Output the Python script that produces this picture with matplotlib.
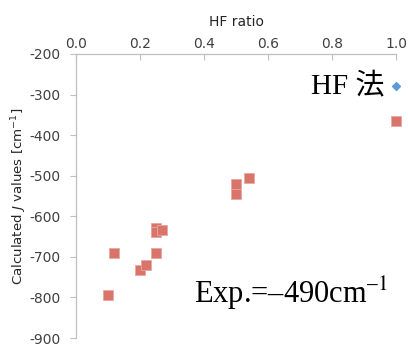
import matplotlib
matplotlib.use('Agg')
import matplotlib.pyplot as plt

plt.rcParams['axes.unicode_minus'] = False

# HF mixing ratio vs. calculated exchange coupling J
hf_ratio = [0.10, 0.12, 0.20, 0.22, 0.25, 0.25, 0.25, 0.27, 0.50, 0.50, 0.54, 1.00]
j_values = [-795, -690, -733, -720, -690, -628, -638, -633, -520, -546, -505, -365]

# pure HF result
hf_x = [1.00]
hf_j = [-280]

fig = plt.figure(figsize=(4.08, 3.46), dpi=100)
ax = fig.add_axes([0.186, 0.023, 0.785, 0.821])

ax.scatter(hf_ratio, j_values, marker='s', s=52, color='#D9746B',
           edgecolors='#E8A8A2', linewidths=0.6, zorder=3, clip_on=False)
ax.scatter(hf_x, hf_j, marker='D', s=16, color='#5B9BD5', zorder=3, clip_on=False)

ax.set_xlim(0.0, 1.0)
ax.set_ylim(-900, -200)
ax.set_xticks([0.0, 0.2, 0.4, 0.6, 0.8, 1.0])
ax.set_xticklabels(['0.0', '0.2', '0.4', '0.6', '0.8', '1.0'])
ax.set_yticks(range(-900, -199, 100))

# x axis on top
ax.xaxis.tick_top()
ax.xaxis.set_label_position('top')
ax.set_xlabel('HF ratio', fontsize=10, color='#262626', labelpad=8)
ax.set_ylabel(r'Calculated $J$ values [cm$^{-1}$]', fontsize=9.6, color='#262626')
ax.yaxis.set_label_coords(-0.145, 0.5)

for side in ['right', 'bottom']:
    ax.spines[side].set_visible(False)
for side in ['left', 'top']:
    ax.spines[side].set_color('#BFBFBF')
    ax.spines[side].set_linewidth(0.9)

ax.tick_params(axis='x', direction='in', length=4, color='#BFBFBF',
               labelsize=10, labelcolor='#404040', pad=2)
ax.tick_params(axis='y', direction='out', length=4, color='#BFBFBF',
               labelsize=10, labelcolor='#404040', pad=7)

serif = ['Liberation Serif', 'Noto Sans CJK JP']
ax.text(0.965, -280, 'HF 法', family=serif, fontsize=21, ha='right', va='center')
ax.text(0.37, -790, 'Exp.=–490cm$^{–1}$', family=serif, fontsize=22,
        ha='left', va='center', math_fontfamily='stix')

fig.savefig('out.png', dpi=100)
